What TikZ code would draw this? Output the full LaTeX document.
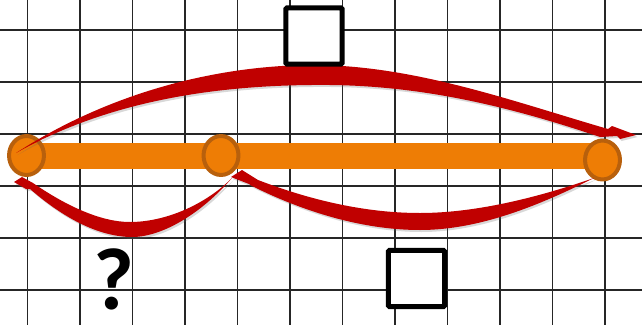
\documentclass[tikz,border=0pt]{standalone}
\usepackage{fontspec}
\setmainfont{Carlito}
\usepackage{tikz}
\usetikzlibrary{shapes.geometric,shadows}

\definecolor{barorange}{HTML}{EE7D05}
\definecolor{rimorange}{HTML}{B8600C}
\definecolor{arcred}{HTML}{C00000}
\definecolor{gridgray}{HTML}{262626}

\begin{document}
\begin{tikzpicture}[x=0.75pt, y=-0.75pt,
    gridline/.style={line width=1.4pt, gridgray},
    bar/.style={line width=19.5pt, barorange},
    joint/.style={ellipse, draw=rimorange, fill=barorange, line width=3pt,
      minimum width=26.2pt, minimum height=29.2pt, inner sep=0pt},
    box/.style={draw=black, fill=white, line width=3.8pt, minimum size=42.2pt,
      rounded corners=1pt},
    redarc/.style={fill=arcred, drop shadow={opacity=0.25, fill=black!60,
      shadow xshift=1.2pt, shadow yshift=-1.5pt}},
    qmark/.style={font=\fontsize{66}{66}\selectfont\bfseries, inner sep=0pt}]
    % 背景与边界
    \fill[white] (0,0) rectangle (642,325);
    \useasboundingbox (0,0) rectangle (642,325);

    % 网格
    \foreach \x in {27.5,80,...,606}
      \draw[gridline] (\x,0) -- (\x,325);
    \foreach \y in {30,82,...,292}
      \draw[gridline] (0,\y) -- (642,\y);

    % 定义坐标点
    \coordinate (A) at (26.5,155.5);
    \coordinate (B) at (221,155.5);
    \coordinate (C) at (602.5,160);

    % 橙色线段
    \draw[bar] (A) -- (A -| C);

    % 端点
    \node[joint] (pA) at (A) {};
    \node[joint] (pB) at (B) {};
    \node[joint] (pC) at (C) {};

    % 上方的弯箭头
    \fill[redarc] (16,153) .. controls (110,92) and (220,64) .. (320,65)
      .. controls (420,67) and (515,102) .. (608,129)
      -- (612,126) -- (636,135) -- (620,139) -- (617,136) -- (600,137)
      .. controls (520,110) and (430,86) .. (330,85)
      .. controls (220,84) and (110,100) .. (16,153) -- cycle;

    % 左下的弯箭头
    \fill[redarc] (232,178) .. controls (200,215) and (160,238) .. (130,237)
      .. controls (95,236) and (60,215) .. (30,189)
      -- (26,189) -- (14,182) -- (22,177) -- (33,183)
      .. controls (65,205) and (100,222) .. (130,222)
      .. controls (165,222) and (205,205) .. (232,178) -- cycle;

    % 右下的弯箭头
    \fill[redarc] (594,178) .. controls (540,205) and (480,230) .. (420,230)
      .. controls (360,230) and (300,210) .. (252,186)
      -- (249,184) -- (231,177) -- (242,170) -- (258,180)
      .. controls (310,200) and (365,213) .. (420,213)
      .. controls (480,213) and (545,195) .. (594,178) -- cycle;

    % 方框与问号
    \node[box] (topbox) at (314,36) {};
    \node[box] (lowbox) at (416.5,278.5) {};
    \node[qmark] (q) at (114,279) {?};
  \end{tikzpicture}
\end{document}
